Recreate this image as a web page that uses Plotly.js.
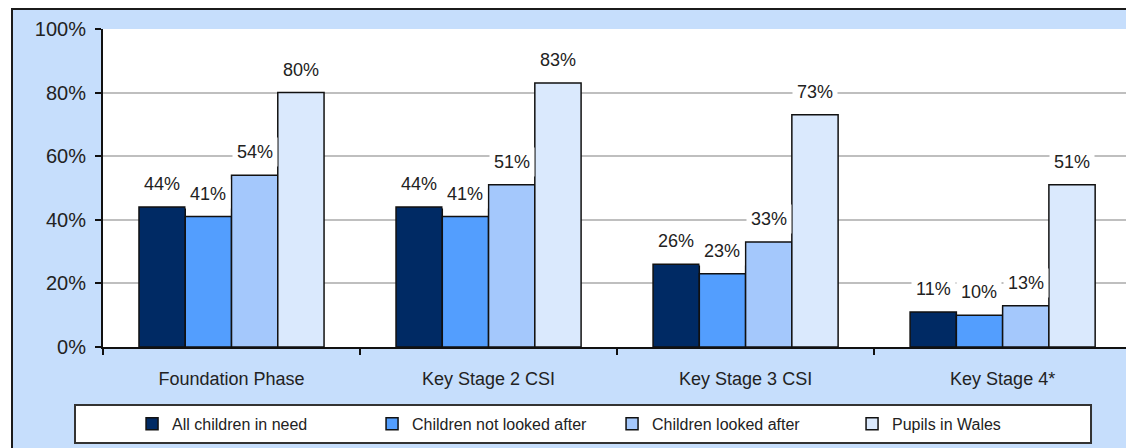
<!DOCTYPE html>
<html><head><meta charset="utf-8">
<script src="https://cdn.plot.ly/plotly-3.0.1.min.js"></script>
<style>
html,body{margin:0;padding:0;background:#fff;overflow:hidden;width:1126px;height:448px;}
#frame{position:absolute;left:11px;top:8px;width:1113px;height:438px;border-left:2px solid #1b1b1b;border-top:2px solid #1b1b1b;background:#C6DEFC;}
#chart{width:1113px;height:438px;}
</style></head><body><div id="frame"><div id="chart"></div></div>
<script>
const categories = ['Foundation Phase', 'Key Stage 2 CSI', 'Key Stage 3 CSI', 'Key Stage 4*'];
const seriesNames = ['All children in need', 'Children not looked after', 'Children looked after', 'Pupils in Wales'];
const allChildrenInNeed = [44, 44, 26, 11];
const childrenNotLookedAfter = [41, 41, 23, 10];
const childrenLookedAfter = [54, 51, 33, 13];
const pupilsInWales = [80, 83, 73, 51];
const yTickVals = [0, 20, 40, 60, 80, 100];
const yTickText = ['0%', '20%', '40%', '60%', '80%', '100%'];

const seriesValues = [allChildrenInNeed, childrenNotLookedAfter, childrenLookedAfter, pupilsInWales];
const colors = ['#002A64', '#539EFE', '#A4C8FC', '#DAE9FD'];
const FONT = 'Liberation Sans, Arial, sans-serif';
const nSeries = seriesValues.length;
const bargap = 0.28;
const barW = (1 - bargap) / nSeries;

const traces = seriesValues.map((vals, s) => ({
  type: 'bar',
  name: seriesNames[s],
  x: categories,
  y: vals,
  marker: {color: colors[s], line: {color: '#111', width: 1.5}},
  hoverinfo: 'skip'
}));

const annotations = [];
seriesValues.forEach((vals, s) => {
  vals.forEach((v, c) => {
    annotations.push({
      x: c + (s - (nSeries - 1) / 2) * barW,
      y: v,
      xref: 'x', yref: 'y',
      text: v + '%',
      showarrow: false,
      yanchor: 'middle',
      yshift: 23,
      bgcolor: '#ffffff',
      borderpad: 4,
      font: {family: FONT, size: 18, color: '#222'}
    });
  });
});

const layout = {
  width: 1113, height: 438,
  margin: {l: 90, r: 0, t: 19, b: 101},
  paper_bgcolor: '#C6DEFC',
  plot_bgcolor: '#ffffff',
  barmode: 'group',
  bargap: bargap,
  bargroupgap: 0,
  font: {family: FONT, color: '#222'},
  xaxis: {
    type: 'category',
    range: [-0.5, 3.48],
    tickson: 'boundaries',
    ticks: 'outside', ticklen: 6, tickwidth: 2, tickcolor: '#111',
    showline: true, linecolor: '#111', linewidth: 2,
    showgrid: false,
    ticklabelstandoff: 14,
    tickfont: {family: FONT, size: 18, color: '#222'}
  },
  yaxis: {
    range: [0, 100],
    tickvals: yTickVals, ticktext: yTickText,
    ticks: 'outside', ticklen: 6, tickwidth: 2, tickcolor: '#111',
    showline: true, linecolor: '#111', linewidth: 2,
    showgrid: true, gridcolor: '#BFBFBF', gridwidth: 2,
    zeroline: false,
    ticklabelstandoff: 5,
    tickfont: {family: FONT, size: 20, color: '#222'}
  },
  showlegend: true,
  legend: {
    orientation: 'h',
    x: 0.0284, xanchor: 'left',
    y: -0.242, yanchor: 'middle',
    bgcolor: 'rgba(0,0,0,0)',
    borderwidth: 0,
    entrywidth: 195, entrywidthmode: 'pixels',
    traceorder: 'normal',
    font: {family: FONT, size: 16, color: '#222'}
  },
  shapes: [{
    type: 'rect', xref: 'paper', yref: 'paper',
    x0: -0.02737, x1: 0.9658, y0: -0.3019, y1: -0.1824,
    fillcolor: '#ffffff', line: {color: '#333', width: 2}, layer: 'above'
  }],
  annotations: annotations
};

Plotly.newPlot('chart', traces, layout, {displayModeBar: false, staticPlot: true});
</script>
</body></html>
